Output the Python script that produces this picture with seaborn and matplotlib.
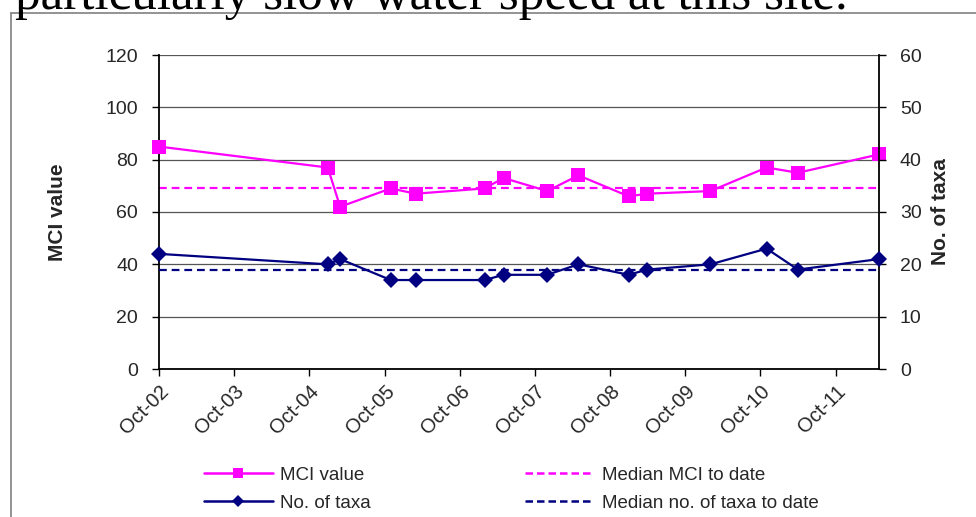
import numpy as np
import pandas as pd
import matplotlib
matplotlib.use("Agg")
import matplotlib.pyplot as plt
import matplotlib.dates as mdates
from matplotlib.lines import Line2D
import seaborn as sns

# ---- data ----
sample_dates = ["2002-10-01", "2004-12-29", "2005-02-27", "2005-10-31", "2006-03-01",
                "2007-01-30", "2007-05-02", "2007-11-30", "2008-04-30", "2008-12-30",
                "2009-03-30", "2010-01-31", "2010-10-31", "2011-04-01", "2012-04-29"]
mci_values = [85, 77, 62, 69, 67, 69, 73, 68, 74, 66, 67, 68, 77, 75, 82]
taxa_values = [22, 20, 21, 17, 17, 17, 18, 18, 20, 18, 19, 20, 23, 19, 21]
mci_median = 69
taxa_median = 19
tick_years = [2002, 2003, 2004, 2005, 2006, 2007, 2008, 2009, 2010, 2011]
tick_labels = ["Oct-02", "Oct-03", "Oct-04", "Oct-05", "Oct-06",
               "Oct-07", "Oct-08", "Oct-09", "Oct-10", "Oct-11"]
left_ticks = [0, 20, 40, 60, 80, 100, 120]
right_ticks = [0, 10, 20, 30, 40, 50, 60]

df = pd.DataFrame({"date": pd.to_datetime(sample_dates),
                   "mci": mci_values, "taxa": taxa_values})

sns.set_style("white")
plt.rcParams["font.family"] = ["Liberation Sans", "DejaVu Sans"]

MAG = "#FF00FF"
NAVY = "#000080"

W, H = 976, 517
fig = plt.figure(figsize=(W / 100, H / 100), dpi=100)
ax = fig.add_axes([159 / W, 1 - 369 / H, 720 / W, 314 / H])
ax2 = ax.twinx()

# grid
ax.set_ylim(0, 120)
ax.set_yticks(left_ticks)
ax.yaxis.grid(True, color="#555555", lw=0.9)
ax.xaxis.grid(False)
ax.set_axisbelow(True)

# medians
ax.axhline(mci_median, color=MAG, lw=1.6, ls=(0, (3.5, 2.2)), zorder=2)
ax2.axhline(taxa_median, color=NAVY, lw=1.6, ls=(0, (3.5, 2.2)), zorder=2)

sns.lineplot(data=df, x="date", y="mci", ax=ax, color=MAG, lw=1.6,
             marker="s", markersize=10, markeredgewidth=0, zorder=3, clip_on=False)
sns.lineplot(data=df, x="date", y="taxa", ax=ax2, color=NAVY, lw=1.6,
             marker="D", markersize=8, markeredgewidth=0, zorder=3, clip_on=False)

ax2.set_ylim(0, 60)
ax2.set_yticks(right_ticks)

ax.set_xlim(df["date"].iloc[0], df["date"].iloc[-1])
ticks = [pd.Timestamp(f"{y}-10-01") for y in tick_years]
ax.set_xticks(ticks)
ax.set_xticklabels(tick_labels, rotation=45, ha="right", rotation_mode="anchor",
                   fontsize=14.5)
ax.set_xlabel("")

for a in (ax, ax2):
    for s in a.spines.values():
        s.set_visible(False)
ax.spines["left"].set_visible(True)
ax.spines["bottom"].set_visible(True)
ax2.spines["right"].set_visible(True)
for s in (ax.spines["left"], ax.spines["bottom"], ax2.spines["right"]):
    s.set_color("black")
    s.set_linewidth(1.3)

ax.tick_params(axis="y", left=True, direction="out", length=5, width=1,
               labelsize=14, pad=10, color="black")
ax.tick_params(axis="x", bottom=True, direction="out", length=5, width=1,
               pad=4, color="black")
ax2.tick_params(axis="y", right=True, direction="out", length=5, width=1,
                labelsize=14, pad=10, color="black")

ax.set_ylabel("MCI value", fontsize=15, fontweight="bold")
ax.yaxis.set_label_coords(-0.128, 0.5)
ax2.set_ylabel("No. of taxa", fontsize=15, fontweight="bold")
ax2.yaxis.set_label_coords(1.072, 0.5)

# legend
handles = [
    Line2D([], [], color=MAG, lw=1.8, marker="s", markersize=7, markeredgewidth=0),
    Line2D([], [], color=NAVY, lw=1.8, marker="D", markersize=6, markeredgewidth=0),
    Line2D([], [], color=MAG, lw=1.8, ls=(0, (3, 1.6))),
    Line2D([], [], color=NAVY, lw=1.8, ls=(0, (3, 1.6))),
]
labels = ["MCI value", "No. of taxa", "Median MCI to date", "Median no. of taxa to date"]
fig.legend(handles, labels, loc="upper left", bbox_to_anchor=(196 / W, 1 - 459 / H),
           ncol=2, frameon=False, fontsize=13.5, handlelength=3.7, handletextpad=0.4,
           columnspacing=8.2, labelspacing=0.6, borderaxespad=0)

# document frame and the clipped sentence above it
fig.add_artist(Line2D([11 / W, 11 / W], [0, 1 - 13 / H], transform=fig.transFigure,
                      color="#808080", lw=1.2))
fig.add_artist(Line2D([11 / W, 1], [1 - 13 / H, 1 - 13 / H], transform=fig.transFigure,
                      color="#808080", lw=1.2))

txt = fig.text(15 / W, 1 - 9 / H, "particularly slow water speed at this site.",
               family=["Liberation Serif", "DejaVu Serif"], fontsize=28, va="baseline",
               ha="left", color="black")
fig.canvas.draw()
bb = txt.get_window_extent()
txt.set_fontsize(28 * 833 / bb.width)

fig.savefig("out.png", dpi=100)
